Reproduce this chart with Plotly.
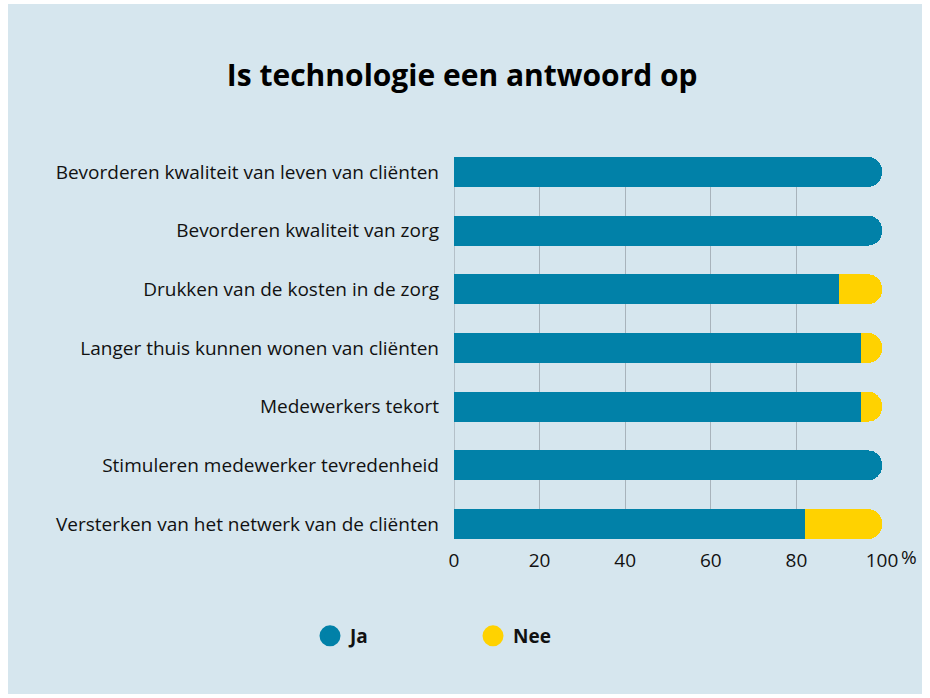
import plotly.graph_objects as go

categories = [
    "Bevorderen kwaliteit van leven van cliënten",
    "Bevorderen kwaliteit van zorg",
    "Drukken van de kosten in de zorg",
    "Langer thuis kunnen wonen van cliënten",
    "Medewerkers tekort",
    "Stimuleren medewerker tevredenheid",
    "Versterken van het netwerk van de cliënten",
]
ja = [100, 100, 90, 95, 95, 100, 82]
nee = [None, None, 10, 5, 5, None, 18]
tick_vals = [0, 20, 40, 60, 80, 100]

TEAL = "#0181a8"
YELLOW = "#ffd200"
BG = "#d6e6ee"
FONT = "Open Sans"

fig = go.Figure()
fig.add_trace(go.Bar(y=categories, x=ja, orientation="h", name="Ja",
                     marker=dict(color=TEAL, line=dict(width=0)), showlegend=False))
fig.add_trace(go.Bar(y=categories, x=nee, orientation="h", name="Nee",
                     marker=dict(color=YELLOW, line=dict(width=0)), showlegend=False))
# legend entries with circular symbols
fig.add_trace(go.Scatter(x=[None], y=[None], mode="markers", name="Ja",
                         marker=dict(color=TEAL, size=22, symbol="circle",
                                     line=dict(color=TEAL, width=5))))
fig.add_trace(go.Scatter(x=[None], y=[None], mode="markers", name="Nee",
                         marker=dict(color=YELLOW, size=22, symbol="circle",
                                     line=dict(color=YELLOW, width=5))))

fig.update_layout(
    width=930, height=698,
    margin=dict(l=454, r=48, t=157, b=159),
    paper_bgcolor="white", plot_bgcolor=BG,
    barmode="stack", bargap=0.49, barcornerradius="50%",
    font=dict(family=FONT, color="#111111", size=19),
    title=dict(text="<b>Is technologie een antwoord op</b>", x=0.497, xanchor="center",
               y=1 - 75/698, yanchor="middle", font=dict(size=30, family=FONT, color="#000000")),
    xaxis=dict(range=[0, 100], tickvals=tick_vals, ticktext=[str(v) for v in tick_vals],
               showgrid=True, gridcolor="#a8b3bb", gridwidth=1, zeroline=False,
               showline=False, ticks="", ticklabelstandoff=8,
               tickfont=dict(size=19, color="#111111"), fixedrange=True),
    yaxis=dict(autorange=False, range=[6.255, -0.255], showgrid=False, zeroline=False,
               showline=False, ticks="", ticklabelstandoff=14,
               tickfont=dict(size=19, color="#111111")),
    legend=dict(orientation="h", traceorder="normal", x=(310-454)/428, xanchor="left",
                y=(539-636)/382, yanchor="middle", bgcolor="rgba(0,0,0,0)", entrywidth=118,
                entrywidthmode="pixels", itemsizing="trace",
                font=dict(size=19, color="#111111", family=FONT, weight="bold"),
                itemclick=False),
    shapes=[
        dict(type="rect", xref="paper", yref="paper", x0=(8-454)/428, x1=(922-454)/428,
             y0=(539-694)/382, y1=(539-4)/382, fillcolor=BG, line=dict(width=0), layer="below"),
        dict(type="line", xref="x", yref="paper", x0=0, x1=0, y0=0, y1=1,
             line=dict(color="#a8b3bb", width=1.5), layer="below"),
    ],
    annotations=[dict(text="%", xref="paper", yref="paper", x=(909-454)/428, y=(539-557)/382,
                      xanchor="center", yanchor="middle",
                      showarrow=False, font=dict(size=19, color="#111111"))],
)

fig.write_html("out.html", config={"displayModeBar": False},
               post_script="document.body.style.margin='0';")
